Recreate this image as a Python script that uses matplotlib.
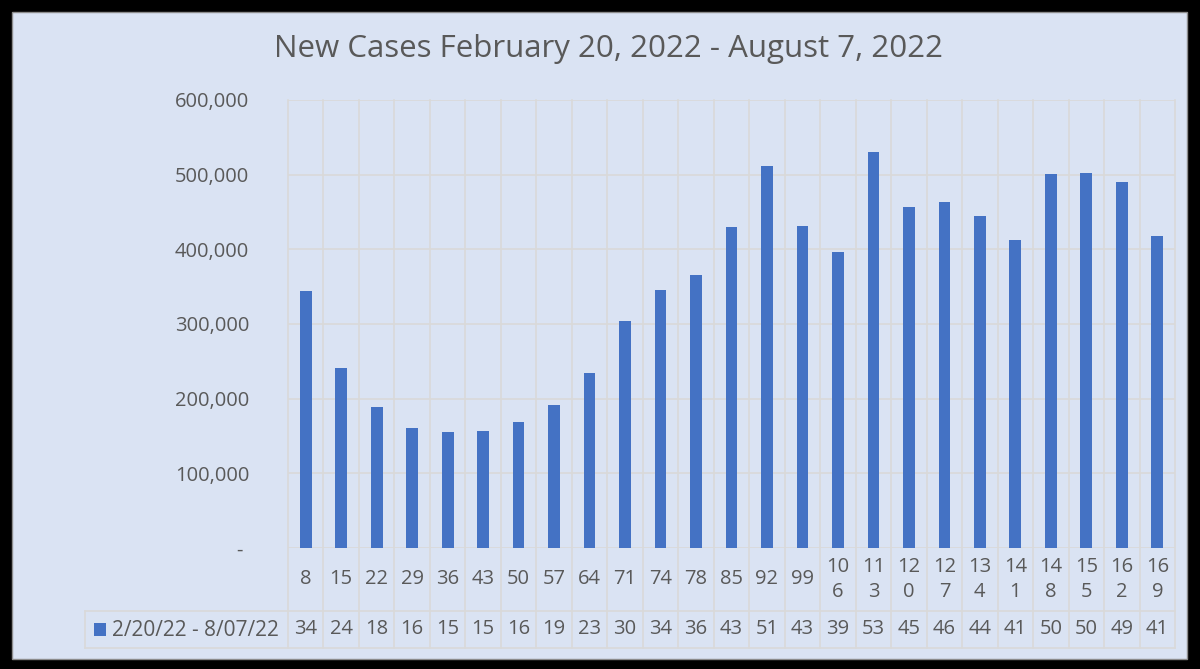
import matplotlib
matplotlib.use("Agg")
import matplotlib.pyplot as plt
from matplotlib.patches import Rectangle
from matplotlib.ticker import FuncFormatter

# data
weeks = [8, 15, 22, 29, 36, 43, 50, 57, 64, 71, 74, 78, 85, 92, 99,
         106, 113, 120, 127, 134, 141, 148, 155, 162, 169]
new_cases = [344600, 240600, 189300, 161200, 155800, 157100, 168700, 192000,
             234300, 303500, 345900, 365000, 430200, 511000, 431600, 396800,
             530600, 457000, 463700, 444500, 412400, 501200, 502500, 490300,
             417700]
series_name = "2/20/22 - 8/07/22"
title = "New Cases February 20, 2022 - August 7, 2022"
y_ticks = [0, 100000, 200000, 300000, 400000, 500000, 600000]

BG = "#dae3f3"
BAR = "#4472c4"
GRID = "#d9d9d9"
TXT = "#595959"
W, H = 1200, 669

plt.rcParams["font.family"] = ["Open Sans", "DejaVu Sans"]

fig = plt.figure(figsize=(12, 6.69), dpi=100, facecolor="black")

# light chart panel inside the black frame
fig.patches.append(Rectangle((12 / W, 1 - 659 / H), 1175 / W, 647 / H,
                             transform=fig.transFigure, facecolor=BG,
                             edgecolor="#8c8c8c", lw=1, zorder=-5))

ax = fig.add_axes([288 / W, 1 - 548 / H, 887 / W, 448 / H])
ax.set_facecolor("none")
n = len(weeks)
ax.bar(range(n), new_cases, width=0.33, color=BAR, zorder=3)
ax.set_xlim(-0.5, n - 0.5)
ax.set_ylim(0, 600000)
ax.set_yticks(y_ticks)
ax.yaxis.set_major_formatter(FuncFormatter(lambda v, p: "- " if v == 0 else f"{int(v):,}"))
ax.tick_params(axis="y", length=0, pad=28, labelsize=14.5, labelcolor=TXT)
ax.set_xticks([])
for s in ax.spines.values():
    s.set_visible(False)
ax.yaxis.grid(True, color=GRID, lw=1.2, zorder=0)
ax.set_axisbelow(True)

# data table geometry (axes coords below the plot)
row1 = -63 / 448
row2 = -100 / 448
legend_left = (85 - 288) / 887
xt = ax.get_xaxis_transform()

for i in range(n + 1):
    x = i - 0.5
    ax.plot([x, x], [1, row2], transform=xt, color=GRID, lw=1.2,
            clip_on=False, zorder=1)
for y in (row1, row2):
    ax.plot([legend_left, 1], [y, y], transform=ax.transAxes, color=GRID,
            lw=1.2, clip_on=False, zorder=1)
ax.plot([legend_left, legend_left], [row1, row2], transform=ax.transAxes,
        color=GRID, lw=1.2, clip_on=False)

for i, (wk, v) in enumerate(zip(weeks, new_cases)):
    s = str(wk)
    lab = s if len(s) <= 2 else s[:2] + "\n" + s[2:]
    ax.text(i, row1 / 2, lab, transform=xt, ha="center", va="center",
            fontsize=14.5, color=TXT, linespacing=1.3)
    # table cells are too narrow, so only the first two digits show
    ax.text(i, (row1 + row2) / 2, str(v)[:2], transform=xt, ha="center",
            va="center", fontsize=14.5, color=TXT)

# legend key in table
fig.patches.append(Rectangle((94 / W, 1 - 636 / H), 12 / W, 13 / H,
                             transform=fig.transFigure, facecolor=BAR,
                             edgecolor="none", zorder=2))
fig.text(112 / W, 1 - 630 / H, series_name, ha="left", va="center",
         fontsize=15, color=TXT)

fig.text(608 / W, 1 - 49 / H, title, ha="center", va="center",
         fontsize=22.5, color=TXT)

fig.savefig("out.png", dpi=100, facecolor=fig.get_facecolor())
